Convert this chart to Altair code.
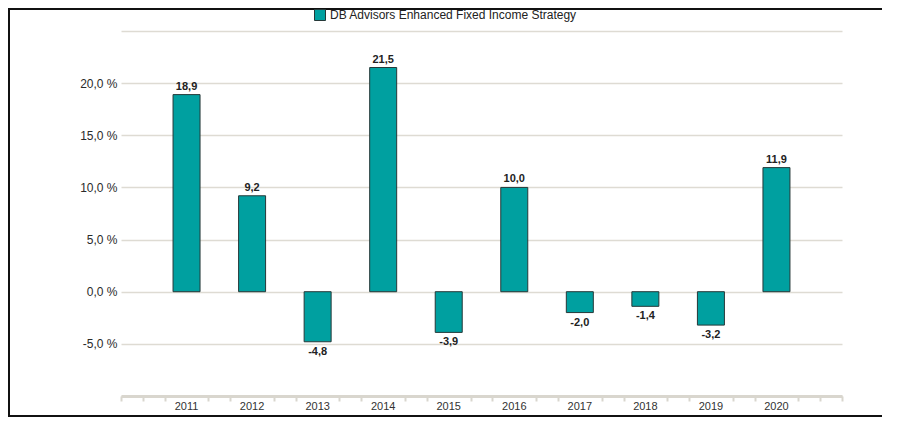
import altair as alt
import pandas as pd

years = ["2011", "2012", "2013", "2014", "2015", "2016", "2017", "2018", "2019", "2020"]
values = [18.9, 9.2, -4.8, 21.5, -3.9, 10.0, -2.0, -1.4, -3.2, 11.9]
series_name = "DB Advisors Enhanced Fixed Income Strategy"
y_ticks = [-10, -5, 0, 5, 10, 15, 20, 25]
minor_ticks = [i for i in range(34) if i % 3 != 0 or i in (0, 33)]

FONT = "Liberation Sans, Arial"
TEAL = "#00a0a0"
STROKE = "#263838"
GRID = "#dedbd3"

df = pd.DataFrame({"year": years, "value": values, "series": [series_name] * len(years)})
df_ticks = pd.DataFrame({"t": minor_ticks, "value": [0] * len(minor_ticks)})

xscale = alt.Scale(paddingInner=0, paddingOuter=0.5)
xenc = alt.X("year:N", sort=years, scale=xscale,
             axis=alt.Axis(title=None, labelAngle=0, ticks=False, domain=True,
                           domainColor="#d9d6ce", domainWidth=3, labelPadding=4,
                           labelFont=FONT, labelFontSize=11, labelColor="#333333",
                           grid=False))
yscale = alt.Scale(domain=[-10, 25], nice=False, zero=False)
yaxis = alt.Axis(title=None, values=y_ticks, grid=True, gridColor=GRID,
                 gridWidth=1.5, domain=False, ticks=False, labelPadding=4,
                 labelFont=FONT, labelFontSize=12, labelColor="#2a2a2a",
                 labelExpr="datum.value <= -10 || datum.value >= 25 ? '' : replace(replace(format(datum.value, '.1f'), '.', ','), '\u2212', '-') + ' %'")
yenc = alt.Y("value:Q", scale=yscale, axis=yaxis)

base = alt.Chart(df)

bars = base.mark_bar(width=27, stroke=STROKE, strokeWidth=1).encode(
    x=xenc,
    y=yenc,
    y2=alt.datum(0),
    color=alt.Color("series:N",
                    scale=alt.Scale(domain=[series_name], range=[TEAL]),
                    legend=alt.Legend(title=None, orient="none", legendX=193, legendY=-22,
                                      symbolType="square", symbolSize=121,
                                      symbolStrokeColor=STROKE, symbolStrokeWidth=1,
                                      labelFont=FONT, labelFontSize=12, labelColor="#222222",
                                      labelOffset=4, labelLimit=500, padding=0)),
)

lab = base.transform_calculate(
    label="replace(replace(format(datum.value, '.1f'), '.', ','), '\u2212', '-')"
)
pos_text = lab.transform_filter("datum.value >= 0").mark_text(
    baseline="bottom", dy=-3, font=FONT, fontSize=11, fontWeight="bold", color="#222222"
).encode(x=alt.X("year:N", sort=years, scale=xscale), y=yenc, text="label:N")
neg_text = lab.transform_filter("datum.value < 0").mark_text(
    baseline="top", dy=4, font=FONT, fontSize=11, fontWeight="bold", color="#222222"
).encode(x=alt.X("year:N", sort=years, scale=xscale), y=yenc, text="label:N")

frame = base.transform_filter("datum.year == '2011'").mark_rect(
    filled=False, stroke="#111111", strokeWidth=2
).encode(x=alt.value(-112), x2=alt.value(900), y=alt.value(-22), y2=alt.value(385))

main = alt.layer(bars, pos_text, neg_text, frame)

ticks = alt.Chart(df_ticks).mark_point(opacity=0).encode(
    x=alt.X("t:Q", scale=alt.Scale(domain=[0, 33], nice=False),
            axis=alt.Axis(title=None, values=minor_ticks, labels=False, domain=False,
                          ticks=True, tickColor="#d9d6ce", tickWidth=2, tickSize=5,
                          grid=False, orient="bottom")),
    y=yenc,
)

chart = alt.layer(main, ticks).resolve_scale(
    x="independent"
).properties(
    width=721, height=365,
    padding={"left": 113, "top": 23, "right": 40, "bottom": 22},
    autosize=alt.AutoSizeParams(type="none"),
    background="white",
).configure_view(strokeWidth=0, stroke="transparent")

chart.save("out.html", embed_options={"renderer": "svg", "actions": False})
